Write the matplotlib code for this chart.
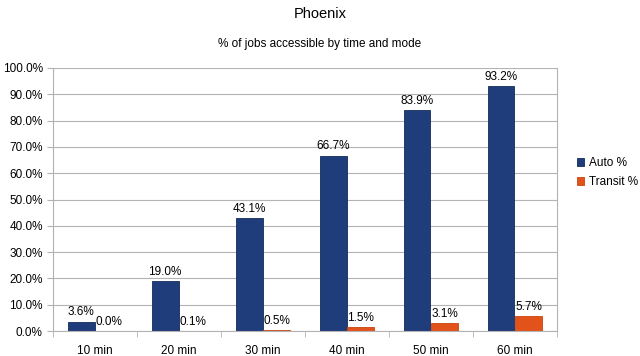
import numpy as np
import matplotlib.pyplot as plt
from matplotlib.ticker import FuncFormatter, FixedLocator

plt.rcParams['font.family'] = ['Liberation Sans', 'DejaVu Sans']

categories = ["10 min", "20 min", "30 min", "40 min", "50 min", "60 min"]
auto_pct = [3.6, 19.0, 43.1, 66.7, 83.9, 93.2]
transit_pct = [0.0, 0.1, 0.5, 1.5, 3.1, 5.7]

fig = plt.figure(figsize=(6.4, 3.56), dpi=100)
ax = fig.add_axes([0.083, 0.070, 0.787, 0.739])

x = np.arange(len(categories))
w = 0.32
b1 = ax.bar(x - 0.165, auto_pct, w, color="#1f3d7a", edgecolor="#142c5c", linewidth=0.6, label="Auto %")
b2 = ax.bar(x + 0.165, transit_pct, w, color="#e2531b", edgecolor="#c9440f", linewidth=0.6, label="Transit %")

for rect, v in zip(b1, auto_pct):
    ax.text(rect.get_x() + rect.get_width() / 2, v + 1.2, "%.1f%%" % v, ha="center", va="bottom", fontsize=8.5)
for rect, v in zip(b2, transit_pct):
    ax.text(rect.get_x() + rect.get_width() / 2, v + 1.2, "%.1f%%" % v, ha="center", va="bottom", fontsize=8.5)

ax.set_xlim(-0.5, len(categories) - 0.5)
ax.set_ylim(0, 100)
ax.set_yticks(np.arange(0, 101, 10))
ax.yaxis.set_major_formatter(FuncFormatter(lambda v, p: "%.1f%%" % v))
ax.set_xticks(x)
ax.set_xticklabels(categories)
ax.xaxis.set_minor_locator(FixedLocator(np.arange(-0.5, len(categories), 1)))
ax.tick_params(axis="x", which="major", length=0, labelsize=8.5, pad=10)
ax.tick_params(axis="x", which="minor", length=4, color="#b3b3b3")
ax.tick_params(axis="y", length=4, color="#b3b3b3", labelsize=8.5)

ax.grid(axis="y", color="#b3b3b3", linewidth=0.8)
ax.set_axisbelow(True)
ax.spines["top"].set_visible(False)
for s in ["left", "right", "bottom"]:
    ax.spines[s].set_color("#b3b3b3")
    ax.spines[s].set_linewidth(0.8)

fig.text(0.5, 0.962, "Phoenix", ha="center", va="center", fontsize=10.5)
fig.text(0.5, 0.877, "% of jobs accessible by time and mode", ha="center", va="center", fontsize=8.5)

fig.legend(handles=[b1, b2], loc="center left", bbox_to_anchor=(0.885, 0.515), frameon=False,
           fontsize=8.5, handlelength=0.6, handleheight=0.6, handletextpad=0.4, labelspacing=0.6)

fig.savefig("out.png", dpi=100)
